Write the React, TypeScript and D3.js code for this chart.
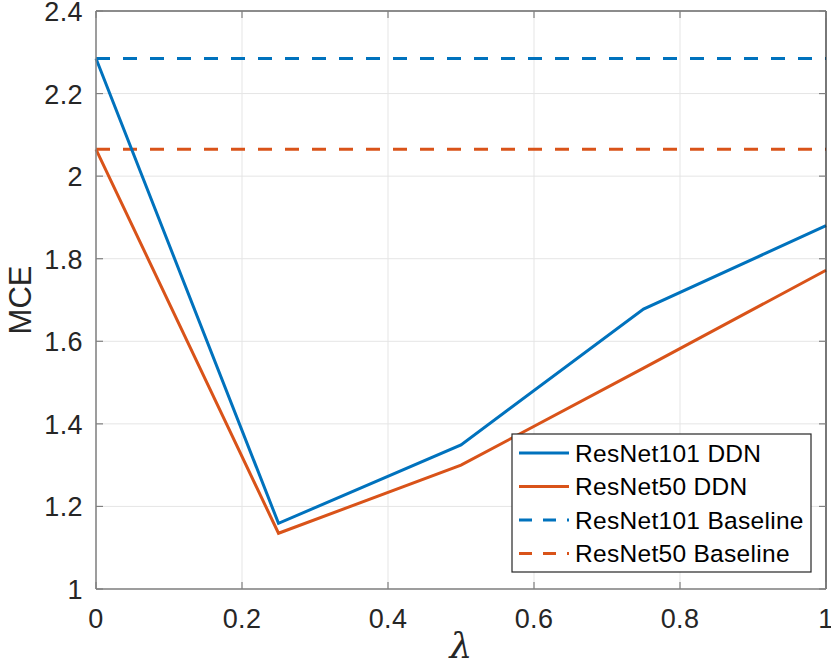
import React from 'react';
import * as d3 from 'd3';

const lambdas = [0, 0.25, 0.5, 0.75, 1];
const resnet101DDN = [2.285, 1.159, 1.349, 1.678, 1.88];
const resnet50DDN = [2.065, 1.135, 1.3, 1.535, 1.772];
const resnet101Baseline = 2.285;
const resnet50Baseline = 2.065;

const xTicks = [0, 0.2, 0.4, 0.6, 0.8, 1];
const yTicks = [1, 1.2, 1.4, 1.6, 1.8, 2, 2.2, 2.4];
const xTickLabels = ['0', '0.2', '0.4', '0.6', '0.8', '1'];
const yTickLabels = ['1', '1.2', '1.4', '1.6', '1.8', '2', '2.2', '2.4'];

const legendLabels = ['ResNet101 DDN', 'ResNet50 DDN', 'ResNet101 Baseline', 'ResNet50 Baseline'];

const BLUE = '#0072BD';
const ORANGE = '#D95319';

const width = 831;
const height = 664;
const margin = { top: 11, right: 5, bottom: 75, left: 96 };
const font = '"Liberation Sans", Arial, Helvetica, sans-serif';

const App: React.FC = () => {
  const x = d3
    .scaleLinear()
    .domain([0, 1])
    .range([margin.left, width - margin.right]);
  const y = d3
    .scaleLinear()
    .domain([1, 2.4])
    .range([height - margin.bottom, margin.top]);

  const [x0, x1] = x.range();
  const [y0, y1] = y.range();

  const line = d3
    .line<number>()
    .x((_, i) => x(lambdas[i]))
    .y((d) => y(d));

  const tickLen = 7;

  const series = [
    { color: BLUE, dashed: false },
    { color: ORANGE, dashed: false },
    { color: BLUE, dashed: true },
    { color: ORANGE, dashed: true },
  ];

  const legend = { x: 512, y: 434, w: 299, h: 138 };
  const rowGap = 33.5;

  return (
    <div style={{ position: 'absolute', left: 0, top: 0 }}>
      <svg width={width} height={height} style={{ display: 'block', background: '#fff' }}>
        {/* grid */}
        <g stroke="#e5e5e5" strokeWidth={1}>
          {xTicks.map((t) => (
            <line key={'gx' + t} x1={x(t)} x2={x(t)} y1={y0} y2={y1} />
          ))}
          {yTicks.map((t) => (
            <line key={'gy' + t} x1={x0} x2={x1} y1={y(t)} y2={y(t)} />
          ))}
        </g>

        {/* baselines */}
        <line
          x1={x0}
          x2={x1}
          y1={y(resnet101Baseline)}
          y2={y(resnet101Baseline)}
          stroke={BLUE}
          strokeWidth={3}
          strokeDasharray="14 13"
        />
        <line
          x1={x0}
          x2={x1}
          y1={y(resnet50Baseline)}
          y2={y(resnet50Baseline)}
          stroke={ORANGE}
          strokeWidth={3}
          strokeDasharray="14 13"
        />

        {/* DDN lines */}
        <path d={line(resnet101DDN) || ''} fill="none" stroke={BLUE} strokeWidth={3} />
        <path d={line(resnet50DDN) || ''} fill="none" stroke={ORANGE} strokeWidth={3} />

        {/* box */}
        <line x1={x0} x2={x1} y1={y1} y2={y1} stroke="#262626" strokeWidth={1.2} />
        <line x1={x1} x2={x1} y1={y1} y2={y0} stroke="#262626" strokeWidth={1.2} />
        <line x1={x0} x2={x1} y1={y0} y2={y0} stroke="#808080" strokeWidth={1.5} />
        <line x1={x0} x2={x0} y1={y1} y2={y0} stroke="#808080" strokeWidth={1.5} />

        {/* ticks */}
        <g stroke="#808080" strokeWidth={1.2}>
          {xTicks.map((t) => (
            <g key={'tx' + t}>
              <line x1={x(t)} x2={x(t)} y1={y0} y2={y0 - tickLen} />
              <line x1={x(t)} x2={x(t)} y1={y1} y2={y1 + tickLen} />
            </g>
          ))}
          {yTicks.map((t) => (
            <g key={'ty' + t}>
              <line x1={x0} x2={x0 + tickLen} y1={y(t)} y2={y(t)} />
              <line x1={x1} x2={x1 - tickLen} y1={y(t)} y2={y(t)} />
            </g>
          ))}
        </g>

        {/* tick labels */}
        <g fontFamily={font} fontSize={27} fill="#262626" letterSpacing={0.4}>
          {xTicks.map((t, i) => (
            <text key={'lx' + t} x={x(t)} y={y0 + 39} textAnchor="middle">
              {xTickLabels[i]}
            </text>
          ))}
          {yTicks.map((t, i) => (
            <text key={'ly' + t} x={x0 - 13} y={y(t) + 10} textAnchor="end">
              {yTickLabels[i]}
            </text>
          ))}
        </g>

        {/* axis labels */}
        <text
          transform={`translate(31, ${(y0 + y1) / 2}) rotate(-90)`}
          textAnchor="middle"
          fontFamily={font}
          fontSize={31}
          fill="#262626"
        >
          MCE
        </text>
        <text
          x={(x0 + x1) / 2}
          y={658}
          textAnchor="middle"
          fontFamily='"DejaVu Serif", serif'
          fontStyle="italic"
          fontSize={36}
          fill="#262626"
        >
          λ
        </text>

        {/* legend */}
        <g>
          <rect
            x={legend.x}
            y={legend.y}
            width={legend.w}
            height={legend.h}
            fill="#fff"
            stroke="#262626"
            strokeWidth={1.2}
          />
          {legendLabels.map((label, i) => {
            const ly = legend.y + 19 + i * rowGap;
            return (
              <g key={label}>
                <line
                  x1={legend.x + 7}
                  x2={legend.x + 57}
                  y1={ly}
                  y2={ly}
                  stroke={series[i].color}
                  strokeWidth={3}
                  strokeDasharray={series[i].dashed ? '13 11' : undefined}
                />
                <text
                  x={legend.x + 63}
                  y={ly + 8.5}
                  fontFamily={font}
                  fontSize={24.5}
                  letterSpacing={0.3}
                  fill="#000"
                >
                  {label}
                </text>
              </g>
            );
          })}
        </g>
      </svg>
    </div>
  );
};

export default App;
